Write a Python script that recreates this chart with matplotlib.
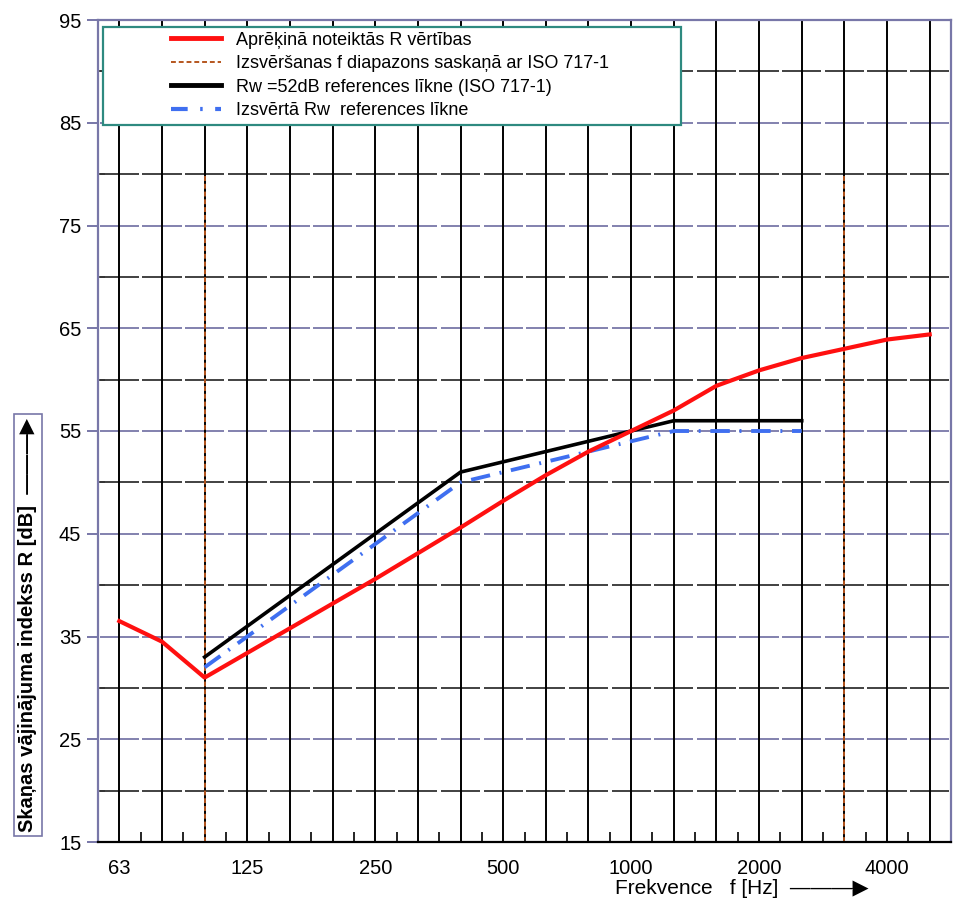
import matplotlib
matplotlib.use("Agg")
import matplotlib.pyplot as plt
from matplotlib.lines import Line2D
from matplotlib.patches import Rectangle

plt.rcParams['font.family'] = ['Liberation Sans', 'DejaVu Sans']

# ---- data ----
bands = ['63', '80', '100', '125', '160', '200', '250', '315', '400', '500',
         '630', '800', '1000', '1250', '1600', '2000', '2500', '3150', '4000', '5000']
tick_labels = ['63', '125', '250', '500', '1000', '2000', '4000']
R_calc = [36.5, 34.5, 31.0, 33.4, 35.8, 38.2, 40.6, 43.1, 45.6, 48.2,
          50.7, 53.0, 55.0, 57.0, 59.4, 60.9, 62.1, 63.0, 63.9, 64.4]
ref_bands = ['100', '125', '160', '200', '250', '315', '400', '500', '630',
             '800', '1000', '1250', '1600', '2000', '2500']
R_ref52 = [33, 36, 39, 42, 45, 48, 51, 52, 53, 54, 55, 56, 56, 56, 56]
R_ref_w = [32, 35, 38, 41, 44, 47, 50, 51, 52, 53, 54, 55, 55, 55, 55]
range_bands = ['100', '3150']
range_y = [15, 80]

labels = ['Aprēķinā noteiktās R vērtības',
          'Izsvēršanas f diapazons saskaņā ar ISO 717-1',
          'Rw =52dB references līkne (ISO 717-1)',
          'Izsvērtā Rw  references līkne']

PURPLE = '#7877a8'
TEAL = '#2e8a80'
RED = '#ff1010'
ORANGE = '#b5561e'
BLUE = '#3f6ff0'

W, H = 960, 899
fig = plt.figure(figsize=(W / 100, H / 100), dpi=100)
L, R_, B, T = 98, 951, 842, 20
ax = fig.add_axes([L / W, 1 - B / H, (R_ - L) / W, (B - T) / H])

idx = {b: i for i, b in enumerate(bands)}
x_all = list(range(len(bands)))
x_ref = [idx[b] for b in ref_bands]

ax.set_xlim(-0.5, len(bands) - 0.5)
ax.set_ylim(15, 95)

# grid: horizontal lines broken by small gaps at third-octave midpoints
g = 0.04
seg_lo = [i - 0.5 + g for i in x_all]
seg_hi = [i + 0.5 - g for i in x_all]
for v in range(20, 95, 5):
    col = PURPLE if (v - 15) % 10 == 0 else '#333333'
    ax.hlines([v] * len(x_all), seg_lo, seg_hi, color=col, lw=1.3, zorder=1)
for xi in x_all:
    ax.axvline(xi, color='black', lw=1.4, zorder=1)

# orange weighting range lines
for b in range_bands:
    ax.plot([idx[b], idx[b]], range_y, color=ORANGE, lw=1.4, linestyle=(0, (2.5, 1.5)), zorder=2)

# legend frame
x0 = (103 - L) / (R_ - L)
x1 = (681 - L) / (R_ - L)
y1 = 1 - (27 - T) / (B - T)
y0 = 1 - (125 - T) / (B - T)
ax.add_patch(Rectangle((x0, y0), x1 - x0, y1 - y0, transform=ax.transAxes,
                       facecolor='white', edgecolor=TEAL, lw=1.6, zorder=3))

ax.plot(x_all, R_calc, color=RED, lw=3.0, zorder=5, solid_joinstyle='round')
ax.plot(x_ref, R_ref52, color='black', lw=2.6, zorder=4)
ax.plot(x_ref, R_ref_w, color=BLUE, lw=2.8, linestyle=(0, (5.0, 2.5, 0.5, 2.5)), zorder=4)

handles = [Line2D([], [], color=RED, lw=3.5),
           Line2D([], [], color=ORANGE, lw=1.4, linestyle=(0, (2.5, 1.5))),
           Line2D([], [], color='black', lw=3.5),
           Line2D([], [], color=BLUE, lw=3.0, linestyle=(0, (4.0, 3.0, 0.6, 3.0)))]
leg = ax.legend(handles, labels, loc='upper left',
                bbox_to_anchor=((167 - L) / (R_ - L), 1 - (28 - T) / (B - T)),
                frameon=False, fontsize=13, handlelength=2.8, handletextpad=0.8,
                labelspacing=0.36, borderpad=0.2, borderaxespad=0)
leg.set_zorder(6)

# spines
for s in ['left', 'top', 'right']:
    ax.spines[s].set_color(PURPLE)
    ax.spines[s].set_linewidth(1.6)
ax.spines['bottom'].set_color('black')
ax.spines['bottom'].set_linewidth(1.6)
for s in ax.spines.values():
    s.set_zorder(7)

# ticks
ax.set_yticks(range(15, 96, 10))
ax.set_yticks(range(20, 95, 10), minor=True)
ax.tick_params(axis='y', which='major', direction='out', length=8, width=1.4,
               color=PURPLE, labelsize=14.5, pad=4)
ax.tick_params(axis='y', which='minor', direction='in', length=5, width=1.2, color='#333333')

ax.set_xticks([idx[t] for t in tick_labels])
ax.set_xticklabels(tick_labels)
ax.set_xticks([i + 0.5 for i in range(len(bands) - 1)], minor=True)
ax.tick_params(axis='x', which='major', length=0, labelsize=14.5, pad=12)
ax.tick_params(axis='x', which='minor', direction='in', length=7, width=1.2, color='black')

# axis labels
fig.text(28 / W, 1 - 625 / H, 'Skaņas vājinājuma indekss R [dB]  ———▶',
         rotation=90, ha='center', va='center', fontsize=14.5, fontweight='bold',
         bbox=dict(boxstyle='square,pad=0.22', facecolor='white', edgecolor=PURPLE, lw=1.2))
fig.text(742 / W, 1 - 888 / H, 'Frekvence   f [Hz]  ———▶', ha='center', va='center',
         fontsize=15)

fig.savefig('out.png', dpi=100)
